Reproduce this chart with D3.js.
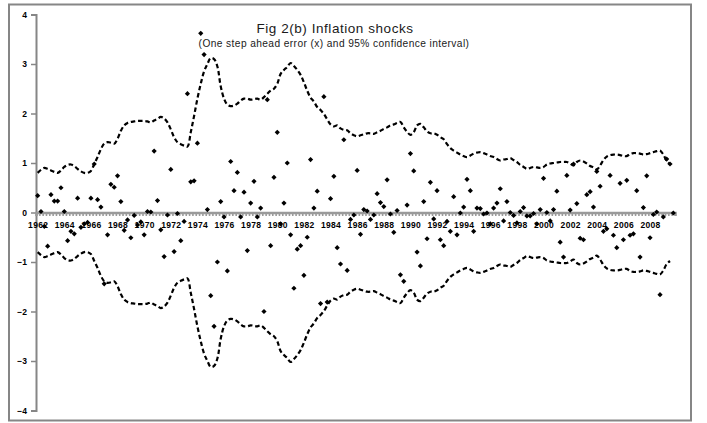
<!DOCTYPE html>
<html><head><meta charset="utf-8">
<script src="https://cdn.jsdelivr.net/npm/d3@7"></script>
<style>body{margin:0;background:#fff}svg{display:block}</style>
</head><body>
<svg id="c" width="707" height="423"></svg>
<script>
const title = "Fig 2(b) Inflation shocks";
const subtitle = "(One step ahead error (x) and 95% confidence interval)";
const firstYear = 1962, lastYear = 2009;
const quarters = [];
for (let yr = firstYear; yr <= lastYear; yr++) for (let q = 1; q <= 4; q++) quarters.push(yr + "Q" + q);
const yTicks = [-4, -3, -2, -1, 0, 1, 2, 3, 4];
const xLabelYears = [1962,1964,1966,1968,1970,1972,1974,1976,1978,1980,1982,1984,1986,1988,1990,1992,1994,1996,1998,2000,2002,2004,2006,2008];

// one step ahead error (x)
const errors = [
 0.34, 0.02,-0.28,-0.68, 0.36, 0.23, 0.23, 0.50,
 0.02,-0.57,-0.38,-0.43, 0.29,-0.30,-0.23,-0.20,
 0.29, 0.98, 0.26, 0.11,-1.44,-0.45, 0.57, 0.51,
 0.74, 0.22,-0.36,-0.15,-0.51,-0.06,-0.25,-0.19,
-0.45, 0.02, 0.01, 1.24, 0.24,-0.35,-0.89,-0.05,
 0.87,-0.79,-0.02,-0.57,-0.18, 2.40, 0.62, 0.64,
 1.40, 3.62, 3.19, 0.06,-1.68,-2.30,-1.00, 0.22,
-0.09,-1.18, 1.03, 0.44, 0.81,-0.09, 0.41,-0.77,
 0.19, 0.63,-0.09, 0.09,-2.00, 2.28,-0.67, 0.71,
 1.62,-0.23, 0.19, 1.00,-0.45,-1.53,-0.74,-0.67,
-1.27,-0.50, 1.07, 0.09, 0.43,-1.84, 2.34,-1.81,
 0.28, 0.73,-0.71,-1.04, 1.47,-1.17,-0.14,-0.05,
 0.85,-0.44, 0.06, 0.03,-0.14,-0.05, 0.38, 0.20,
 0.12, 0.66,-0.03,-0.40, 0.04,-1.26,-1.39, 0.15,
 1.19, 0.84,-0.80,-1.08, 0.22,-0.53, 0.61,-0.13,
 0.44,-0.55,-0.67,-0.18,-0.38, 0.32,-0.45,-0.01,
 0.11, 0.67, 0.44,-0.38, 0.09, 0.08,-0.03,-0.01,
-0.23, 0.09, 0.19, 0.48,-0.17, 0.22, 0.00,-0.06,
-0.21, 0.02, 0.10,-0.07,-0.07,-0.02,-0.23, 0.06,
 0.69, 0.00,-0.17, 0.06, 0.43,-0.60,-0.90, 0.75,
 0.05, 0.98, 0.18,-0.52,-0.55, 0.36, 0.42, 0.11,
 0.83, 0.53,-0.38,-0.33, 0.75,-0.46,-0.71, 0.59,
-0.55, 0.65,-0.46,-0.43, 0.44,-0.90, 0.10, 0.74,
-0.51,-0.04, 0.01,-1.66,-0.09, 1.08, 0.98,-0.01
];
// 95% confidence interval half-width (upper = +, lower = -)
const ciUpper = [
 0.80,0.86,0.90,0.88,0.85,0.82,0.80,0.85,
 0.92,0.96,0.97,0.94,0.88,0.83,0.80,0.80,
 0.84,0.98,1.12,1.28,1.39,1.42,1.41,1.39,
 1.49,1.65,1.76,1.81,1.83,1.84,1.85,1.85,
 1.85,1.84,1.82,1.86,1.89,1.93,1.90,1.82,
 1.68,1.52,1.42,1.38,1.35,1.33,1.62,1.95,
 2.30,2.60,2.85,3.00,3.12,3.10,2.95,2.55,
 2.30,2.18,2.15,2.16,2.20,2.26,2.30,2.30,
 2.28,2.29,2.30,2.28,2.33,2.40,2.46,2.50,
 2.60,2.80,2.88,2.94,3.02,2.96,2.88,2.78,
 2.63,2.46,2.32,2.24,2.13,2.07,1.99,1.88,
 1.78,1.74,1.76,1.70,1.67,1.66,1.60,1.56,
 1.54,1.56,1.58,1.60,1.60,1.59,1.62,1.65,
 1.69,1.72,1.76,1.78,1.81,1.83,1.72,1.63,
 1.57,1.62,1.76,1.79,1.72,1.64,1.60,1.60,
 1.57,1.52,1.48,1.38,1.30,1.25,1.21,1.17,
 1.14,1.12,1.15,1.19,1.21,1.22,1.20,1.17,
 1.14,1.12,1.08,1.05,1.07,1.08,1.10,1.06,
 1.02,0.96,0.92,0.88,0.90,0.92,0.91,0.90,
 0.92,0.97,0.99,1.00,1.01,1.02,1.02,1.02,
 0.99,0.95,1.02,1.05,1.03,0.99,0.94,0.91,
 0.87,0.95,1.06,1.13,1.16,1.17,1.17,1.16,
 1.14,1.14,1.18,1.20,1.20,1.19,1.17,1.18,
 1.20,1.22,1.24,1.25,1.17,1.04,0.98,null
];
const ciLower = ciUpper.map(v => v == null ? null : -v);

const svg = d3.select("#c");
const plotL = 36, plotR = 675;
const FONT = "Liberation Sans, Arial, sans-serif";

// outer frame
svg.append("rect").attr("x", 9).attr("y", 4.5).attr("width", 682).attr("height", 416)
  .attr("fill", "#fff").attr("stroke", "#868686").attr("stroke-width", 2);

const x = d3.scaleBand().domain(quarters).range([plotL, plotR]).padding(0);
const xi = d3.scaleLinear().domain([0, quarters.length]).range([plotL, plotR]);
const y = d3.scaleLinear().domain([-4, 4]).range([410.5, 14.5]);
const cx = (i) => x(quarters[i]) + x.bandwidth() / 2;

// y axis
const yAx = svg.append("g").attr("transform", `translate(${plotL},0)`)
  .call(d3.axisLeft(y).tickValues(yTicks).tickSize(5).tickPadding(4).tickFormat(d3.format("d")));
yAx.select(".domain").attr("stroke", "#868686").attr("stroke-width", 2);
yAx.selectAll(".tick line").attr("stroke", "#868686").attr("stroke-width", 1.5);
yAx.selectAll("text").attr("font-family", FONT)
  .attr("font-size", 8.5).attr("font-weight", "bold").attr("fill", "#000");

// confidence band lines
const line = d3.line().defined(d => d != null)
  .x((d, i) => cx(i)).y(d => y(d)).curve(d3.curveCatmullRom.alpha(0.5));
[ciUpper, ciLower].forEach(arr => {
  svg.append("path").datum(arr).attr("d", line)
    .attr("fill", "none").attr("stroke", "#000").attr("stroke-width", 2.2)
    .attr("stroke-dasharray", "4.5,2.8");
});

// x axis at zero
const x0 = y(0);
const xAx = svg.append("g").attr("transform", `translate(0,${x0})`)
  .call(d3.axisBottom(xi).tickValues(d3.range(quarters.length + 1)).tickSize(3.5).tickFormat(""));
xAx.select(".domain").attr("stroke", "#9a9a9a").attr("stroke-width", 2.5);
xAx.selectAll(".tick line").attr("stroke", "#9a9a9a").attr("stroke-width", 1.6);

const labAx = svg.append("g").attr("transform", `translate(0,${x0})`)
  .call(d3.axisBottom(xi).tickValues(xLabelYears.map(yr => (yr - firstYear) * 4 + 0.5))
    .tickSize(0).tickPadding(9).tickFormat(v => firstYear + Math.round((v - 0.5) / 4)));
labAx.select(".domain").remove();
labAx.selectAll("text").attr("font-family", FONT)
  .attr("font-size", 8.5).attr("font-weight", "bold").attr("letter-spacing", 0.3).attr("fill", "#000");

// error points (diamonds)
svg.append("g").selectAll("path").data(errors).join("path")
  .attr("transform", (d, i) => `translate(${cx(i)},${y(d)})`)
  .attr("d", "M0,-2.6L2.6,0L0,2.6L-2.6,0Z").attr("fill", "#000");

// titles
svg.append("text").attr("x", 335).attr("y", 33).attr("text-anchor", "middle")
  .attr("font-family", FONT).attr("font-size", 13.5).attr("letter-spacing", 0.55)
  .attr("fill", "#1a1a1a").text(title);
svg.append("text").attr("x", 334).attr("y", 46.5).attr("text-anchor", "middle")
  .attr("font-family", FONT).attr("font-size", 10.2).attr("letter-spacing", 0.4)
  .attr("fill", "#1a1a1a").text(subtitle);
</script>
</body></html>
